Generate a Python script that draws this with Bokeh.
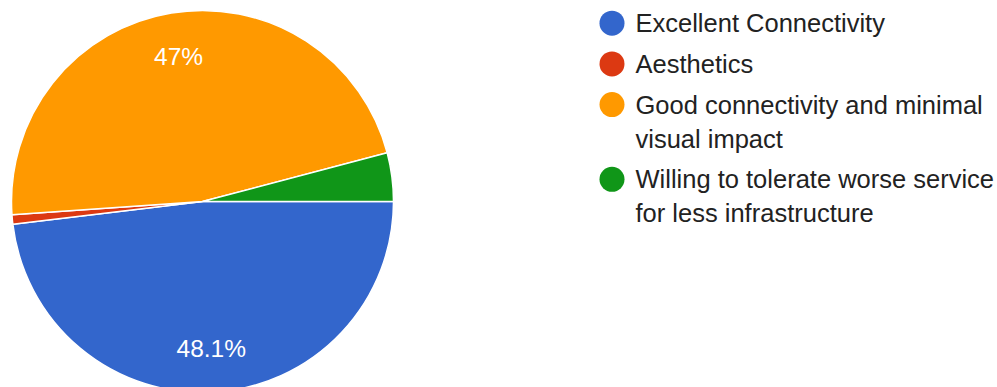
import math
from bokeh.plotting import figure
from bokeh.models import Range1d, ColumnDataSource
from bokeh.core.properties import value
from bokeh.embed import file_html
from bokeh.resources import INLINE

categories = ["Excellent Connectivity", "Aesthetics",
              "Good connectivity and minimal\nvisual impact",
              "Willing to tolerate worse service\nfor less infrastructure"]
percents = [48.1, 0.8, 47.0, 4.1]
colors = ["#3366cc", "#dc3912", "#ff9900", "#109618"]

W, H = 997, 387
p = figure(width=W, height=H, output_backend="svg", toolbar_location=None,
           x_range=Range1d(0, W), y_range=Range1d(0, H),
           x_axis_location=None, y_axis_location=None, min_border=0)
p.grid.visible = False
p.outline_line_color = None
p.background_fill_color = "white"

cx, cy, r = 202, H - 201, 191
total = sum(percents)
starts, ends = [], []
acc = 0.0
for v in percents:
    a0 = acc
    acc += v
    starts.append(-acc / total * 2 * math.pi)
    ends.append(-a0 / total * 2 * math.pi)

src = ColumnDataSource(dict(start=starts, end=ends, color=colors))
p.wedge(x=cx, y=cy, radius=r, start_angle="start", end_angle="end",
        direction="anticlock", fill_color="color", line_color="white",
        line_width=1.5, source=src)

# slice labels
lx, ly, lt = [], [], []
for v, s, e in zip(percents, starts, ends):
    if v / total < 0.05:
        continue
    mid = (s + e) / 2
    lx.append(cx + 0.77 * r * math.cos(mid))
    ly.append(cy + 0.77 * r * math.sin(mid))
    lt.append(f"{v:g}%")
p.text(x=lx, y=ly, text=lt, text_color="white", text_align="center",
       text_baseline="middle", text_font=value("Liberation Sans"),
       text_font_size="24.5px")

# legend
leg_x_dot, leg_x_text = 611.5, 635
top_y = H - 22.7
line_h, row_gap = 34, 40.7
dot_y, tx, ty, tt = [], [], [], []
y = top_y
for lab in categories:
    lines = lab.split("\n")
    dot_y.append(y)
    for i, ln in enumerate(lines):
        tx.append(leg_x_text)
        ty.append(y - i * line_h)
        tt.append(ln)
    y -= row_gap + (len(lines) - 1) * line_h
p.scatter(x=[leg_x_dot] * len(dot_y), y=dot_y, size=25, marker="circle",
          fill_color=colors, line_color=None)
p.text(x=tx, y=ty, text=tt, text_color="#222222", text_align="left",
       text_baseline="middle", text_font=value("Liberation Sans"),
       text_font_size="25.5px")

open("out.html", "w").write(file_html(p, INLINE))
